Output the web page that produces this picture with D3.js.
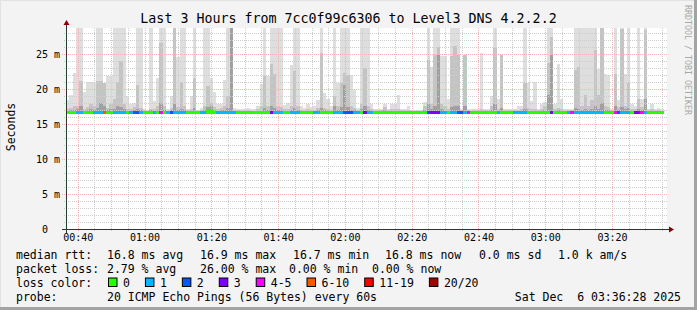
<!DOCTYPE html>
<html>
<head>
<meta charset="utf-8">
<script src="https://cdn.jsdelivr.net/npm/d3@7"></script>
<style>
  body { margin: 0; background: #fff; }
  text { font-family: "DejaVu Sans Mono", monospace; white-space: pre; }
</style>
</head>
<body>
<svg id="chart" width="697" height="310"></svg>
<script>
// Data (one column per 60 s step)
var startTime = new Date(2025, 11, 6, 0, 36, 28);
var endTime = new Date(2025, 11, 6, 3, 36, 28);
var stepSeconds = 60;

// top of the lightest smoke band (ms), values above the plot are clipped
var smokeHi = [
  18.4,19.1,22.3,30,30,19.6,21.0,21.0,21.0,30,
  30,20.8,21.8,21.8,30,30,30,30,19.0,17.9,
  18.0,30,30,17.2,17.0,30,18.3,21.5,30,30,
  17.1,19.0,30,24.6,30,30,17.2,19.0,30,17.0,
  17.3,30,30,21.6,19.5,17.9,17.9,21.3,30,30,
  17.3,17.2,17.1,17.2,17.3,17.1,17.1,17.5,20.7,30,
  21.9,30,30,30,30,17.7,18.0,23.4,30,30,
  17.6,17.3,17.8,17.4,17.5,18.4,30,19.4,18.6,17.5,
  30,20.8,30,30,30,22.0,19.9,17.3,30,30,
  30,17.8,17.2,17.2,17.2,17.9,17.2,17.9,17.9,19.1,
  17.2,17.2,17.6,17.0,17.0,17.0,17.0,18.2,30,23.2,
  30,30,24.7,24.7,18.5,30,30,30,17.2,24.8,
  17.2,17.1,17.2,17.2,25.1,17.2,17.2,19.0,30,18.5,
  24.9,17.2,17.2,17.2,17.2,17.6,17.6,30,20.8,18.3,
  21.0,17.2,17.9,18.1,30,30,17.9,23.6,18.6,17.2,
  17.2,17.2,30,30,30,30,30,30,30,22.9,
  30,22.2,22.0,17.2,30,18.4,30,22.2,30,17.9,
  17.6,30,18.6,29.0,17.2,17.9,17.2,17.3,17.1
];

// top of the middle smoke band (ms)
var smokeMid = [
  17.2,17.3,17.5,17.6,21.2,17.2,17.4,17.8,17.5,21.2,
  21.2,20.8,17.3,17.8,18.5,21.0,24.0,17.8,17.2,17.1,
  17.4,20.5,17.3,17.0,16.9,17.2,17.2,17.6,26.6,17.5,
  16.9,17.3,28.8,17.4,21.0,17.6,17.0,17.2,21.6,16.9,
  17.0,17.5,20.4,18.0,17.4,17.2,17.3,17.6,19.0,30,
  17.0,17.0,16.9,17.0,17.0,16.9,16.9,17.1,17.6,21.8,
  17.5,23.5,22.1,17.6,17.4,17.1,17.2,17.5,22.6,17.6,
  17.0,17.0,17.1,17.0,17.0,17.3,25.2,17.3,17.2,17.0,
  19.0,17.5,20.8,22.3,22.0,17.6,17.3,17.0,17.9,23.0,
  17.5,17.1,17.0,17.0,17.0,17.4,17.0,17.1,17.1,17.2,
  17.0,17.0,17.0,16.9,16.9,16.9,16.9,17.5,24.2,17.8,
  24.8,26.0,17.8,17.5,17.2,24.7,26.2,24.9,17.0,24.8,
  17.0,16.9,17.0,17.0,17.2,17.0,17.0,17.6,25.8,17.2,
  24.9,17.0,17.0,17.0,17.0,17.0,17.1,20.8,17.3,17.1,
  17.2,17.0,17.1,17.6,23.7,27.4,17.1,17.3,17.2,17.0,
  17.0,17.0,22.7,23.2,17.6,19.2,17.5,18.4,25.6,19.2,
  30,17.6,17.4,17.0,22.2,17.4,28.6,17.6,20.8,17.2,
  17.1,18.5,17.4,28.4,17.0,17.1,17.0,17.0,16.9
];

// top of the darkest smoke band (ms)
var smokeDark = [
  16.9,17.0,17.0,17.1,17.5,16.9,17.0,17.2,17.0,17.3,
  18.0,17.6,17.0,17.1,17.2,17.5,17.4,17.1,16.9,16.9,
  17.0,17.2,17.0,16.9,16.8,17.0,16.9,17.0,18.0,17.0,
  16.8,17.0,17.8,17.0,17.2,17.0,16.9,16.9,17.3,16.8,
  16.9,17.0,17.4,17.6,17.0,16.9,17.0,17.0,17.3,28.8,
  16.9,16.9,16.8,16.9,16.9,16.8,16.8,16.9,17.0,17.3,
  17.0,17.5,17.3,17.0,17.0,16.9,16.9,17.0,17.3,17.0,
  16.9,16.9,16.9,16.9,16.9,17.0,17.3,17.0,16.9,16.9,
  17.6,17.0,17.4,20.5,17.4,17.0,17.0,16.9,17.2,17.6,
  17.0,16.9,16.9,16.9,16.9,17.0,16.9,16.9,16.9,16.9,
  16.9,16.9,16.9,16.8,16.8,16.8,16.8,17.0,17.8,17.2,
  17.5,24.8,17.2,17.0,16.9,17.4,17.5,17.5,16.9,17.6,
  16.9,16.8,16.9,16.9,16.9,16.9,16.9,17.0,17.8,16.9,
  17.3,16.9,16.9,16.9,16.9,16.9,16.9,17.2,17.0,16.9,
  16.9,16.9,16.9,17.0,19.1,24.9,16.9,17.0,16.9,16.9,
  16.9,16.9,17.3,17.2,17.0,17.2,17.0,17.2,17.6,17.2,
  18.0,17.0,17.0,16.9,17.6,17.0,17.4,17.1,17.3,16.9,
  16.9,17.2,17.0,18.5,16.9,16.9,16.9,16.9,16.8
];

// median rtt (ms)
var medianRtt = [
  16.7,16.7,16.7,16.7,16.7,16.7,16.7,16.7,16.7,16.7,
  16.7,16.7,16.7,16.7,16.7,16.7,16.7,16.7,16.7,16.7,
  16.7,16.7,16.7,16.7,16.7,16.7,16.7,16.7,16.7,16.7,
  16.7,16.7,16.7,16.7,16.7,16.7,16.7,16.7,16.7,16.7,
  16.7,16.7,16.9,16.9,16.7,16.7,16.7,16.7,16.7,16.7,
  16.7,16.7,16.7,16.7,16.7,16.7,16.7,16.7,16.7,16.7,
  16.7,16.7,16.7,16.7,16.7,16.7,16.7,16.7,16.7,16.7,
  16.7,16.7,16.7,16.7,16.7,16.7,16.7,16.7,16.7,16.7,
  16.7,16.7,16.7,16.7,16.7,16.7,16.7,16.7,16.7,16.7,
  16.7,16.7,16.7,16.7,16.7,16.7,16.7,16.7,16.7,16.7,
  16.7,16.7,16.7,16.7,16.7,16.7,16.7,16.7,16.7,16.7,
  16.7,16.7,16.7,16.7,16.7,16.7,16.7,16.7,16.7,16.7,
  16.7,16.7,16.7,16.7,16.7,16.7,16.7,16.7,16.7,16.7,
  16.7,16.7,16.7,16.7,16.7,16.7,16.7,16.7,16.7,16.7,
  16.7,16.7,16.7,16.7,16.7,16.7,16.7,16.7,16.7,16.7,
  16.7,16.7,16.7,16.7,16.7,16.7,16.7,16.7,16.7,16.7,
  16.7,16.7,16.7,16.7,16.7,16.7,16.7,16.7,16.7,16.7,
  16.7,16.7,16.7,16.7,16.7,16.7,16.7,16.7,16.7
];

// loss class per step, index into lossLabels
var lossClass = [
  0,0,0,1,1,0,0,0,1,1,
  1,5,0,0,1,1,1,1,0,1,
  2,2,1,0,0,0,1,0,4,0,
  1,2,1,1,1,1,0,0,0,0,
  1,1,0,0,0,1,1,1,1,1,
  1,0,0,0,0,0,0,0,0,0,
  0,3,1,1,1,0,0,1,1,1,
  0,0,0,0,1,1,0,0,0,0,
  1,1,1,2,2,2,1,1,0,3,
  1,1,0,0,0,0,0,0,0,0,
  0,0,0,0,0,0,0,0,2,3,
  3,3,1,1,0,1,1,2,2,1,
  4,0,0,0,0,0,0,0,0,1,
  0,0,0,0,1,1,1,1,0,0,
  0,0,0,0,0,3,0,0,0,0,
  1,4,1,1,1,1,1,1,1,1,
  1,0,0,0,4,2,1,1,1,0,
  3,3,4,1,0,0,0,0,0
];

var lossLabels = ["0", "1", "2", "3", "4-5", "6-10", "11-19", "20/20"];
var lossColors = ["#26ff00", "#00b8ff", "#0059ff", "#7e00ff", "#ff00ff", "#ff5500", "#ff0000", "#a10000"];

var yTicks = [0, 5, 10, 15, 20, 25];
var yMax = 28.7;

var titleText = "Last 3 Hours from 7cc0f99c6306 to Level3 DNS 4.2.2.2";
var yLabel = "Seconds";
var rttStats = ["16.8 ms avg", "16.9 ms max", "16.7 ms min", "16.8 ms now", "0.0 ms sd", "1.0 k am/s"];
var lossStats = ["2.79 % avg", "26.00 % max", "0.00 % min", "0.00 % now"];
var probeText = "20 ICMP Echo Pings (56 Bytes) every 60s";
var stampText = "Sat Dec  6 03:36:28 2025";

// Sizing
var svg = d3.select("#chart");
var width = 697, height = 310;
var plotLeft = 66, plotRight = 667, plotTop = 28, plotBottom = 229;
var legendX = 16, valueX = 107;
var rttCols = [107, 200, 293, 385, 479, 558];
var lossCols = [107, 200, 289, 372];
var rowY = [258.5, 272.5, 286.5, 300.5];
var charWidth = 6.93;

var xscale = d3.scaleTime().domain([startTime, endTime]).range([plotLeft, plotRight]);
var yscale = d3.scaleLinear().domain([0, yMax]).range([plotBottom, plotTop]);

var steps = smokeHi.map((d, i) => ({
	t0: d3.timeSecond.offset(startTime, i * stepSeconds),
	t1: d3.timeSecond.offset(startTime, (i + 1) * stepSeconds),
	hi: d,
	mid: smokeMid[i],
	dark: smokeDark[i],
	median: medianRtt[i],
	loss: lossClass[i],
}));

// Background and frame
svg.append("rect").attr("width", width).attr("height", height).attr("fill", "#f3f3f3");
svg.append("rect").attr("x", 0).attr("y", 0).attr("width", width).attr("height", 1).attr("fill", "#e2e2e2");
svg.append("rect").attr("x", 0).attr("y", 0).attr("width", 1).attr("height", height).attr("fill", "#e2e2e2");
svg.append("rect").attr("x", 0).attr("y", height - 3).attr("width", width).attr("height", 3).attr("fill", "#a3a3a3");
svg.append("rect").attr("x", width - 3).attr("y", 0).attr("width", 3).attr("height", height).attr("fill", "#a3a3a3");

svg.append("rect")
	.attr("x", plotLeft).attr("y", plotTop)
	.attr("width", plotRight - plotLeft).attr("height", plotBottom - plotTop)
	.attr("fill", "#fff");

svg.append("clipPath").attr("id", "plotClip")
	.append("rect")
	.attr("x", plotLeft).attr("y", plotTop)
	.attr("width", plotRight - plotLeft).attr("height", plotBottom - plotTop);

// Smoke
var smoke = svg.append("g").attr("clip-path", "url(#plotClip)").attr("shape-rendering", "crispEdges");
var smokeBase = 16.4;
[["hi", "#dedede"], ["mid", "#c4c4c4"], ["dark", "#a0a0a0"]].forEach(([key, color]) => {
	smoke.append("g")
		.selectAll("rect")
		.data(steps)
		.join("rect")
		.attr("x", (d) => xscale(d.t0))
		.attr("width", (d) => xscale(d.t1) - xscale(d.t0))
		.attr("y", (d) => yscale(d[key]))
		.attr("height", (d) => yscale(smokeBase) - yscale(d[key]))
		.attr("fill", color);
});

// Grid
var minorColor = "#cdcdcd";
var majorColor = "#f6b4b4";
var grid = svg.append("g").attr("stroke-dasharray", "1,1").attr("shape-rendering", "crispEdges");
var msLines = d3.range(1, Math.floor(yMax) + 1);
grid.selectAll("line.h")
	.data(msLines)
	.join("line")
	.attr("x1", (d) => (d % 5 === 0 ? plotLeft - 4 : plotLeft - 2))
	.attr("x2", plotRight + 1)
	.attr("y1", (d) => Math.round(yscale(d)) + 0.5)
	.attr("y2", (d) => Math.round(yscale(d)) + 0.5)
	.attr("stroke", (d) => (d % 5 === 0 ? majorColor : minorColor));

var minuteLines = xscale.ticks(d3.timeMinute.every(5));
grid.selectAll("line.v")
	.data(minuteLines)
	.join("line")
	.attr("x1", (d) => Math.round(xscale(d)) + 0.5)
	.attr("x2", (d) => Math.round(xscale(d)) + 0.5)
	.attr("y1", plotTop)
	.attr("y2", (d) => (d.getMinutes() % 20 === 0 ? plotBottom + 3 : plotBottom + 2))
	.attr("stroke", (d) => (d.getMinutes() % 20 === 0 ? majorColor : minorColor));

// Median line coloured by loss
svg.append("g")
	.attr("shape-rendering", "crispEdges")
	.selectAll("rect")
	.data(steps)
	.join("rect")
	.attr("x", (d) => xscale(d.t0))
	.attr("width", (d) => xscale(d.t1) - xscale(d.t0))
	.attr("y", (d) => Math.round(yscale(d.median)) - 1.5)
	.attr("height", 3)
	.attr("fill", (d) => lossColors[d.loss]);

// Axes
var axisColor = "#333";
svg.append("line")
	.attr("x1", plotLeft - 4).attr("x2", plotRight + 3)
	.attr("y1", plotBottom + 0.5).attr("y2", plotBottom + 0.5)
	.attr("stroke", axisColor);
svg.append("line")
	.attr("x1", plotLeft + 0.5).attr("x2", plotLeft + 0.5)
	.attr("y1", plotBottom + 4).attr("y2", plotTop - 3)
	.attr("stroke", axisColor);
svg.append("path")
	.attr("d", `M${plotRight + 7},${plotBottom + 0.5} L${plotRight + 2},${plotBottom - 2.5} L${plotRight + 2},${plotBottom + 3.5} Z`)
	.attr("fill", "#8b0000");
svg.append("path")
	.attr("d", `M${plotLeft + 0.5},${plotTop - 8} L${plotLeft - 2.5},${plotTop - 3} L${plotLeft + 3.5},${plotTop - 3} Z`)
	.attr("fill", "#8b0000");

var xaxis = d3.axisBottom(xscale)
	.ticks(d3.timeMinute.every(20))
	.tickFormat(d3.timeFormat("%H:%M"))
	.tickSize(0)
	.tickPadding(5);
var xaxisArea = svg.append("g").attr("transform", `translate(0, ${plotBottom})`).call(xaxis);
xaxisArea.select(".domain").remove();
xaxisArea.selectAll("text").attr("font-family", "DejaVu Sans Mono").attr("font-size", 10).attr("fill", "#000");

var yaxis = d3.axisLeft(yscale)
	.tickValues(yTicks)
	.tickFormat((d) => (d === 0 ? "0  " : d + " m"))
	.tickSize(0)
	.tickPadding(6);
var yaxisArea = svg.append("g").attr("transform", `translate(${plotLeft}, 0)`).call(yaxis);
yaxisArea.select(".domain").remove();
yaxisArea.selectAll("text").attr("font-family", "DejaVu Sans Mono").attr("font-size", 10).attr("fill", "#000");

// Titles
svg.append("text")
	.attr("x", 348.5).attr("y", 23)
	.attr("text-anchor", "middle")
	.attr("font-size", 13.3)
	.text(titleText);

svg.append("text")
	.attr("transform", "translate(11, 127) rotate(-90)")
	.attr("text-anchor", "middle")
	.attr("dominant-baseline", "central")
	.attr("font-size", 11.5)
	.text(yLabel);

svg.append("text")
	.attr("transform", "translate(688, 60) rotate(90)")
	.attr("text-anchor", "middle")
	.attr("dominant-baseline", "central")
	.attr("font-size", 8.3)
	.attr("fill", "#a8a8a8")
	.text("RRDTOOL / TOBI OETIKER");

// Legend
var legend = svg.append("g").attr("font-size", 11.5).attr("fill", "#000");

legend.append("text").attr("x", legendX).attr("y", rowY[0]).text("median rtt:");
rttStats.forEach((s, i) => legend.append("text").attr("x", rttCols[i]).attr("y", rowY[0]).text(s));

legend.append("text").attr("x", legendX).attr("y", rowY[1]).text("packet loss:");
lossStats.forEach((s, i) => legend.append("text").attr("x", lossCols[i]).attr("y", rowY[1]).text(s));

legend.append("text").attr("x", legendX).attr("y", rowY[2]).text("loss color:");
var boxX = 108;
lossLabels.forEach((label, i) => {
	legend.append("rect")
		.attr("x", boxX + 0.5).attr("y", rowY[2] - 8.5)
		.attr("width", 8.5).attr("height", 8.5)
		.attr("fill", lossColors[i])
		.attr("stroke", "#000");
	legend.append("text").attr("x", boxX + 15).attr("y", rowY[2]).text(label);
	boxX += 30 + charWidth * label.length;
});

legend.append("text").attr("x", legendX).attr("y", rowY[3]).text("probe:");
legend.append("text").attr("x", valueX).attr("y", rowY[3]).text(probeText);
legend.append("text").attr("x", 681).attr("y", rowY[3]).attr("text-anchor", "end").text(stampText);
</script>
</body>
</html>
